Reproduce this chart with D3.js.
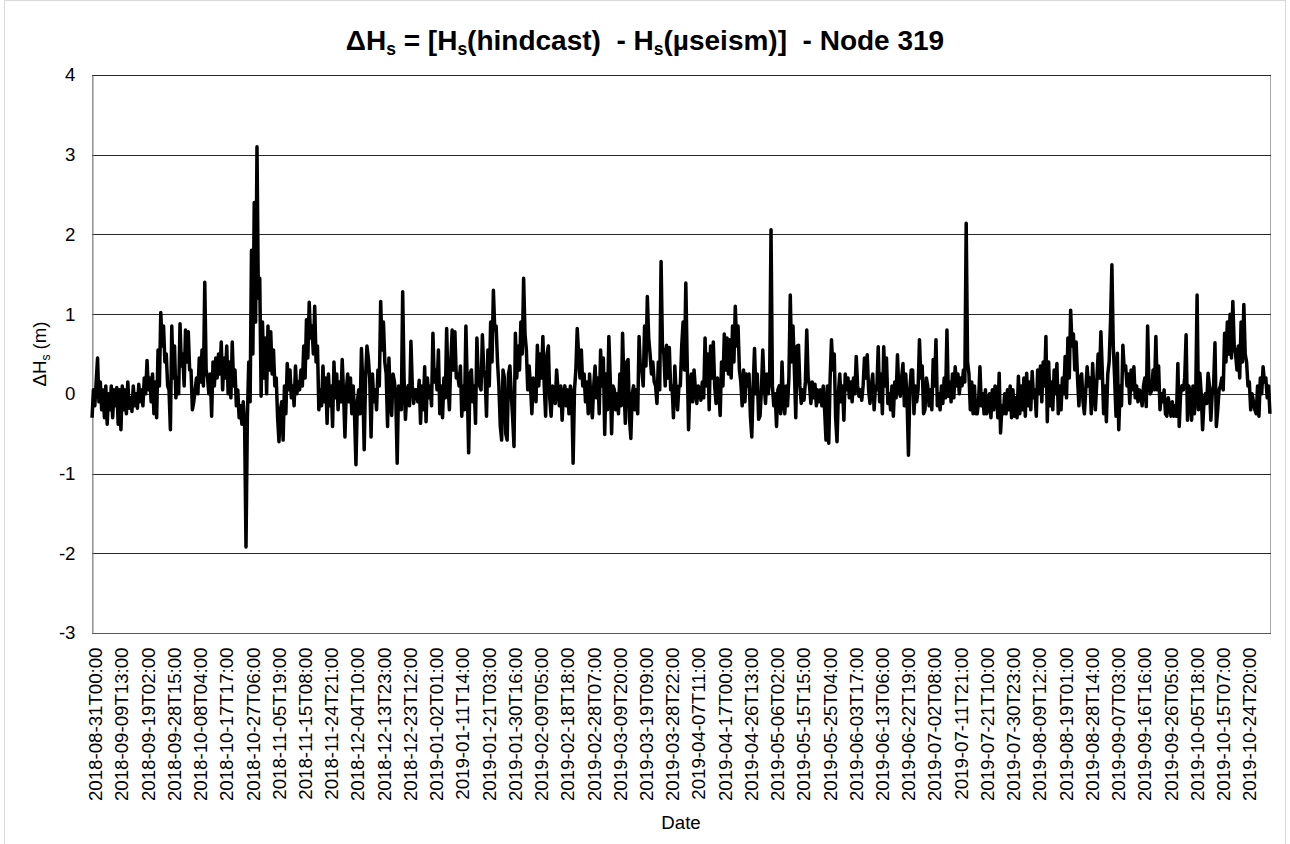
<!DOCTYPE html>
<html>
<head>
<meta charset="utf-8">
<script src="https://cdn.jsdelivr.net/npm/d3@7"></script>
<style>
  body { margin: 0; background: #ffffff; }
  svg { display: block; }
  text { font-family: "Liberation Sans", Arial, sans-serif; fill: #000; }
</style>
</head>
<body>
<svg id="chart" width="1290" height="844"></svg>
<script>
// Hourly record resampled every 12 hours (two readings per day)
const seriesStart = "2018-08-31T00:00";
const seriesEnd = "2019-11-02T12:00";
const stepHours = 12;

// ΔHs (m), two values per day, starting at seriesStart
const deltaHs = [
  -0.30,0.05,-0.15,0.15,0.45,-0.10,0.15,-0.20,0.05,-0.30,0.10,-0.38,0.00,-0.20,0.10,-0.30,0.05,-0.15,0.08,-0.38,
  0.05,-0.45,0.10,-0.20,0.05,-0.25,0.15,-0.18,-0.05,-0.22,0.10,-0.15,0.00,-0.18,0.12,-0.10,0.05,-0.15,0.20,0.00,
  0.42,0.05,0.20,-0.10,0.25,-0.25,0.15,-0.30,0.55,0.10,1.02,0.60,0.85,0.40,0.50,0.10,0.05,-0.45,0.85,0.20,
  0.60,-0.05,0.20,0.00,0.88,0.35,0.50,0.10,0.80,0.40,0.78,0.30,0.30,-0.20,-0.10,0.05,0.20,0.00,0.45,0.15,
  0.55,0.10,1.40,0.30,0.20,0.00,0.25,-0.28,0.40,0.10,0.45,0.20,0.50,0.25,0.65,0.05,0.45,0.20,0.60,0.00,
  0.40,-0.05,0.65,0.10,0.30,-0.15,0.05,-0.30,-0.15,-0.38,-0.10,-0.40,-1.92,-0.30,0.40,-0.10,1.80,0.50,2.40,0.90,
  3.10,1.20,1.45,-0.03,0.90,0.20,0.70,0.00,0.85,0.30,0.78,0.25,0.55,0.10,0.20,-0.30,-0.60,-0.20,-0.10,-0.58,
  0.10,-0.25,0.38,0.05,0.30,-0.05,0.10,-0.15,0.35,0.00,0.15,0.05,0.30,0.10,0.60,0.20,0.93,0.45,1.15,0.70,
  0.85,0.50,1.10,0.40,0.60,-0.20,0.05,-0.15,0.35,-0.10,0.20,-0.37,0.25,-0.15,0.10,-0.41,0.40,-0.05,0.25,-0.20,
  0.15,-0.10,0.43,0.00,-0.54,0.05,0.25,-0.10,0.20,-0.25,0.10,-0.28,-0.89,-0.10,0.05,-0.25,0.57,0.10,-0.70,0.20,
  0.60,0.45,0.20,-0.54,0.25,-0.10,0.05,-0.20,0.30,0.10,1.16,0.55,0.90,0.40,0.25,-0.41,0.45,-0.10,-0.27,0.25,
  0.15,-0.05,-0.87,0.10,0.05,-0.20,1.28,0.20,-0.32,0.00,0.10,-0.15,0.66,0.10,-0.12,0.05,0.05,-0.10,0.17,-0.37,
  0.10,-0.20,0.34,-0.35,0.20,-0.05,0.10,-0.15,0.76,0.15,0.30,0.05,0.55,-0.25,0.10,-0.30,0.20,-0.05,0.82,0.10,
  -0.20,0.40,0.80,0.30,0.78,0.20,0.25,0.10,0.35,-0.28,0.10,-0.20,0.85,0.10,-0.74,0.25,0.30,-0.10,0.10,-0.37,
  0.70,0.20,0.10,0.05,0.74,0.30,0.20,-0.28,0.55,0.10,0.90,0.40,1.30,0.80,0.85,0.40,0.10,-0.40,-0.58,0.30,
  0.20,-0.50,-0.58,0.25,0.35,0.00,-0.30,-0.66,0.76,0.20,0.60,0.30,0.90,0.50,1.45,0.75,0.55,0.05,0.35,0.10,
  -0.25,0.20,0.05,-0.10,0.61,0.10,0.50,0.20,0.72,0.10,-0.28,0.50,0.60,-0.05,-0.28,0.10,0.00,-0.12,0.30,0.05,
  -0.15,0.10,-0.33,0.00,0.10,-0.15,0.05,-0.25,0.10,0.00,-0.87,0.05,0.30,0.82,0.50,0.20,0.55,0.10,0.25,-0.10,
  0.15,-0.25,0.25,-0.10,-0.30,0.10,0.35,-0.05,0.20,-0.25,0.55,0.10,0.45,-0.51,0.25,-0.20,0.72,0.20,-0.50,0.10,
  0.05,-0.20,0.00,-0.25,0.25,-0.15,0.76,0.10,-0.37,0.40,0.43,-0.30,-0.56,0.00,0.10,-0.20,0.05,-0.25,0.72,0.30,
  0.30,0.10,0.85,0.35,1.22,0.70,0.50,0.25,0.40,0.15,0.10,-0.12,0.40,0.05,1.66,0.60,0.50,0.10,0.61,0.20,
  0.58,0.05,0.10,-0.30,0.35,0.00,-0.20,0.10,0.10,0.60,0.90,0.30,1.39,0.40,-0.45,0.10,0.25,-0.10,0.30,0.05,
  -0.12,0.10,0.05,-0.08,0.15,-0.05,0.70,0.10,0.50,-0.20,0.60,0.20,0.65,0.10,-0.12,0.20,0.05,-0.27,0.40,0.10,
  0.75,0.30,0.70,0.25,0.68,0.20,0.85,0.40,1.10,0.60,0.85,0.30,0.15,-0.15,0.30,-0.10,0.25,0.10,0.25,-0.28,
  -0.54,0.10,0.57,0.00,0.25,-0.32,-0.28,0.05,0.55,0.10,-0.12,0.25,0.00,0.20,2.06,0.10,-0.15,0.00,-0.41,0.05,
  0.10,-0.25,0.40,-0.10,-0.25,0.10,-0.15,0.20,1.24,0.40,0.85,0.30,-0.30,0.60,0.61,0.10,-0.12,0.05,-0.08,0.15,
  0.80,0.20,0.10,-0.12,0.15,-0.05,0.12,-0.15,0.05,-0.10,0.05,-0.15,0.10,-0.20,-0.58,0.10,-0.62,0.20,0.68,0.30,
  0.50,-0.30,-0.60,0.00,0.25,-0.10,0.10,-0.33,0.25,0.05,0.20,-0.05,0.15,-0.10,0.20,0.00,0.47,0.10,-0.03,0.05,
  -0.08,0.10,0.45,0.20,0.49,0.05,-0.12,0.10,0.25,-0.20,0.10,0.05,0.59,-0.10,0.25,-0.25,0.59,0.10,0.45,-0.12,
  0.00,-0.20,0.10,-0.28,0.15,-0.05,0.49,0.05,-0.03,0.20,0.38,-0.15,0.25,-0.10,-0.77,0.05,0.30,0.30,-0.25,0.10,
  -0.10,0.05,0.68,0.20,0.35,-0.25,-0.20,0.20,0.10,-0.15,0.05,-0.20,0.43,0.10,0.68,-0.15,0.00,-0.20,0.10,-0.12,
  0.20,-0.05,0.80,-0.03,0.15,-0.10,0.25,-0.05,0.34,0.10,0.25,0.00,0.20,0.10,0.30,0.15,2.14,0.40,0.25,-0.20,
  0.15,-0.25,0.10,-0.25,-0.25,-0.10,0.34,-0.15,0.00,-0.25,0.05,-0.25,-0.15,0.00,-0.30,0.05,-0.20,0.10,0.05,-0.30,
  0.26,-0.49,-0.15,-0.25,0.00,-0.25,0.05,-0.20,0.10,-0.30,0.05,-0.28,-0.05,-0.30,0.22,-0.25,0.10,-0.20,0.20,-0.28,
  0.26,-0.15,0.15,-0.20,0.28,-0.05,0.05,-0.28,0.30,0.00,0.35,-0.10,0.40,0.10,0.72,-0.35,0.40,-0.15,0.15,-0.20,
  0.30,0.00,0.38,-0.25,0.10,-0.20,0.20,0.00,0.47,-0.05,0.70,0.20,1.05,0.60,0.75,0.30,0.65,0.20,-0.15,0.20,
  0.25,-0.10,-0.25,0.05,0.34,0.10,0.20,-0.25,0.38,0.00,-0.20,0.15,0.50,0.20,0.78,0.30,-0.25,0.10,-0.35,0.25,
  0.40,0.90,1.62,0.60,0.20,-0.28,0.51,-0.45,0.10,-0.15,0.61,0.30,0.35,0.10,0.25,-0.12,0.30,0.05,0.34,-0.05,
  0.10,-0.10,0.05,0.00,-0.15,0.10,0.20,-0.16,0.85,0.10,0.00,0.05,0.30,0.05,0.72,0.05,0.35,-0.20,0.00,-0.10,
  0.05,-0.25,-0.28,-0.05,-0.15,-0.28,-0.10,-0.28,-0.15,-0.28,0.38,-0.41,0.00,0.10,0.05,0.20,0.74,-0.33,0.10,0.00,
  -0.33,0.10,-0.25,0.00,1.24,-0.20,0.26,0.00,-0.45,-0.10,0.00,-0.12,0.26,0.10,-0.33,0.00,0.10,0.64,-0.41,-0.20,
  0.05,0.10,0.20,0.05,0.76,0.40,0.90,0.50,1.00,0.45,1.16,0.60,0.50,0.30,0.60,0.20,0.90,0.40,1.12,0.50,
  0.40,0.10,0.15,-0.20,0.00,-0.10,-0.20,-0.25,0.10,-0.28,0.20,0.00,0.34,0.15,0.20,-0.05,0.10,-0.25
];

// Category labels shown on the date axis
const tickLabels = [
  "2018-08-31T00:00","2018-09-09T13:00","2018-09-19T02:00","2018-09-28T15:00","2018-10-08T04:00",
  "2018-10-17T17:00","2018-10-27T06:00","2018-11-05T19:00","2018-11-15T08:00","2018-11-24T21:00",
  "2018-12-04T10:00","2018-12-13T23:00","2018-12-23T12:00","2019-01-02T01:00","2019-01-11T14:00",
  "2019-01-21T03:00","2019-01-30T16:00","2019-02-09T05:00","2019-02-18T18:00","2019-02-28T07:00",
  "2019-03-09T20:00","2019-03-19T09:00","2019-03-28T22:00","2019-04-07T11:00","2019-04-17T00:00",
  "2019-04-26T13:00","2019-05-06T02:00","2019-05-15T15:00","2019-05-25T04:00","2019-06-03T17:00",
  "2019-06-13T06:00","2019-06-22T19:00","2019-07-02T08:00","2019-07-11T21:00","2019-07-21T10:00",
  "2019-07-30T23:00","2019-08-09T12:00","2019-08-19T01:00","2019-08-28T14:00","2019-09-07T03:00",
  "2019-09-16T16:00","2019-09-26T05:00","2019-10-05T18:00","2019-10-15T07:00","2019-10-24T20:00"
];

const yTicks = [-3, -2, -1, 0, 1, 2, 3, 4];

// ---- layout ----
const plot = { left: 92, right: 1270, top: 75, bottom: 633 };
const FONT = 18.67;
const FAMILY = "Liberation Sans, Arial, sans-serif";

const svg = d3.select("#chart");
const parse = d3.utcParse("%Y-%m-%dT%H:%M");
const HOUR = 3600 * 1000;
const t0 = parse(seriesStart), t1 = parse(seriesEnd);

const points = deltaHs.map((v, i) => ({ t: new Date(t0.getTime() + i * stepHours * HOUR), v }));

// each hourly record is one category slot, centred in its slot
const x = d3.scaleUtc()
  .domain([new Date(t0.getTime() - 0.5 * HOUR), new Date(t1.getTime() + 0.5 * HOUR)])
  .range([plot.left, plot.right]);
const y = d3.scaleLinear().domain([-3, 4]).range([plot.bottom, plot.top]);

// chart area frame
svg.append("rect")
  .attr("x", 4.5).attr("y", 0.5).attr("width", 1281).attr("height", 860)
  .attr("fill", "#fff").attr("stroke", "#d9d9d9").attr("stroke-width", 1);

// plot area frame
svg.append("rect")
  .attr("x", plot.left + 0.5).attr("y", plot.top + 0.5)
  .attr("width", plot.right - plot.left).attr("height", plot.bottom - plot.top)
  .attr("fill", "none").attr("stroke", "#a6a6a6").attr("stroke-width", 1);

// horizontal gridlines
svg.append("g").selectAll("line").data(yTicks).join("line")
  .attr("x1", plot.left).attr("x2", plot.right + 1)
  .attr("y1", d => Math.round(y(d)) + 0.5).attr("y2", d => Math.round(y(d)) + 0.5)
  .attr("stroke", d => d === -3 ? "#595959" : "#262626").attr("stroke-width", 1);

// y axis (plain hyphen for negatives)
const yAxis = svg.append("g")
  .attr("transform", `translate(${plot.left + 0.5},0)`)
  .call(d3.axisLeft(y).tickValues(yTicks).tickSize(0).tickPadding(17).tickFormat(d => String(d)));
yAxis.select(".domain").attr("stroke", "#868686");
yAxis.selectAll("text")
  .attr("font-size", FONT).attr("font-family", FAMILY).attr("fill", "#000");

// x axis with rotated category labels
const xAxis = svg.append("g")
  .attr("transform", `translate(0,${plot.bottom + 0.5})`)
  .call(d3.axisBottom(x).tickValues(tickLabels.map(parse)).tickSize(0)
    .tickFormat((d, i) => tickLabels[i]));
xAxis.select(".domain").remove();
xAxis.selectAll("text")
  .attr("font-size", FONT).attr("font-family", FAMILY).attr("fill", "#000")
  .attr("transform", "rotate(-90)")
  .attr("text-anchor", "end")
  .attr("x", -14).attr("y", 9.6).attr("dy", 0);

// the series
const line = d3.line().x(d => x(d.t)).y(d => y(d.v));
svg.append("path")
  .datum(points)
  .attr("d", line)
  .attr("fill", "none")
  .attr("stroke", "#000")
  .attr("stroke-width", 3.5)
  .attr("stroke-linejoin", "round");

// title with subscripts
const title = svg.append("text")
  .attr("x", 645).attr("y", 50)
  .attr("text-anchor", "middle")
  .attr("font-size", 28).attr("font-weight", "bold");
title.append("tspan").text("ΔH");
title.append("tspan").attr("font-size", 17.5).attr("dy", 5).text("s");
title.append("tspan").attr("dy", -5).text(" = [H");
title.append("tspan").attr("font-size", 17.5).attr("dy", 5).text("s");
title.append("tspan").attr("dy", -5).text("(hindcast)\u00a0 - H");
title.append("tspan").attr("font-size", 17.5).attr("dy", 5).text("s");
title.append("tspan").attr("dy", -5).text("(µseism)]\u00a0 - Node 319");

// y axis title
const yTitle = svg.append("text")
  .attr("transform", `translate(46,${(plot.top + plot.bottom) / 2}) rotate(-90)`)
  .attr("text-anchor", "middle")
  .attr("font-size", FONT);
yTitle.append("tspan").text("ΔH");
yTitle.append("tspan").attr("font-size", 12).attr("dy", 4).text("s");
yTitle.append("tspan").attr("dy", -4).text(" (m)");

// x axis title
svg.append("text")
  .attr("x", (plot.left + plot.right) / 2).attr("y", 829)
  .attr("text-anchor", "middle")
  .attr("font-size", FONT)
  .text("Date");
</script>
</body>
</html>
